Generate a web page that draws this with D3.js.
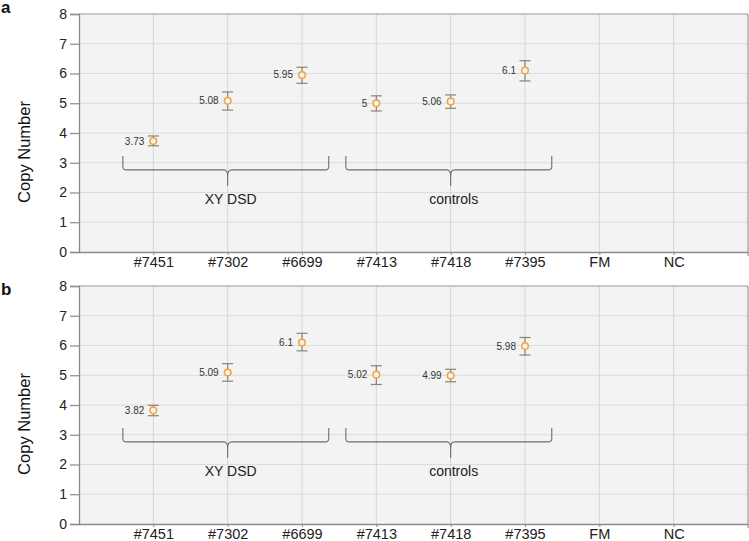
<!DOCTYPE html>
<html>
<head>
<meta charset="utf-8">
<script src="https://cdn.jsdelivr.net/npm/d3@7"></script>
<style>
  html, body { margin: 0; padding: 0; background: #fff; }
  svg { display: block; font-family: "Liberation Sans", Arial, Helvetica, sans-serif; }
</style>
</head>
<body>
<svg id="chart" width="749" height="541"></svg>
<script>
// ---- data ----
const categories = ["#7451", "#7302", "#6699", "#7413", "#7418", "#7395", "FM", "NC"];
const yTicks = [0, 1, 2, 3, 4, 5, 6, 7, 8];

const aValues = [3.73, 5.08, 5.95, 5.00, 5.06, 6.10];
const aLow    = [3.57, 4.77, 5.67, 4.74, 4.83, 5.75];
const aHigh   = [3.90, 5.38, 6.21, 5.25, 5.28, 6.43];
const aLabels = ["3.73", "5.08", "5.95", "5", "5.06", "6.1"];

const bValues = [3.82, 5.09, 6.10, 5.02, 4.99, 5.98];
const bLow    = [3.64, 4.80, 5.82, 4.69, 4.78, 5.68];
const bHigh   = [3.99, 5.39, 6.41, 5.32, 5.20, 6.27];
const bLabels = ["3.82", "5.09", "6.1", "5.02", "4.99", "5.98"];

const groupNames = ["XY DSD", "controls"];
const groupFirst = [0, 3];
const groupLast  = [2, 5];

const panels = [
  { letter: "a", top: 14, letterY: 13, values: aValues, low: aLow, high: aHigh, labels: aLabels },
  { letter: "b", top: 286, letterY: 295, values: bValues, low: bLow, high: bHigh, labels: bLabels }
];

// ---- layout ----
const left = 79, right = 748, plotH = 238;
const svg = d3.select("#chart");

const x = d3.scaleLinear().domain([0, categories.length + 1]).range([left, right]);
const xc = i => x(i + 1);

panels.forEach(p => {
  const y = d3.scaleLinear().domain([0, 8]).range([p.top + plotH, p.top]);
  const g = svg.append("g");

  // background
  g.append("rect").attr("x", left).attr("y", p.top)
    .attr("width", right - left).attr("height", plotH).attr("fill", "#f3f3f3");

  // horizontal grid
  g.selectAll(".hg").data(yTicks.slice(1, -1)).join("line")
    .attr("x1", left).attr("x2", right)
    .attr("y1", d => y(d)).attr("y2", d => y(d))
    .attr("stroke", "#dcdcdc").attr("stroke-width", 1);
  // vertical grid
  g.selectAll(".vg").data(categories).join("line")
    .attr("x1", (d, i) => xc(i)).attr("x2", (d, i) => xc(i))
    .attr("y1", p.top).attr("y2", p.top + plotH)
    .attr("stroke", "#d6d6d6").attr("stroke-width", 1);

  // frame top / right
  g.append("line").attr("x1", left).attr("x2", right).attr("y1", p.top).attr("y2", p.top)
    .attr("stroke", "#9a9a9a").attr("stroke-width", 1.2);
  g.append("line").attr("x1", right).attr("x2", right).attr("y1", p.top).attr("y2", p.top + plotH + 4)
    .attr("stroke", "#9a9a9a").attr("stroke-width", 1.2);

  // y axis
  const yAxis = d3.axisLeft(y).tickValues(yTicks).tickSize(9).tickPadding(3).tickFormat(d3.format("d"));
  const ya = g.append("g").attr("transform", `translate(${left},0)`).call(yAxis);
  ya.select(".domain").attr("stroke", "#8a8a8a").attr("stroke-width", 1.3);
  ya.selectAll(".tick line").attr("stroke", "#8a8a8a").attr("stroke-width", 1.2);
  ya.selectAll(".tick text").attr("font-size", 14).attr("fill", "#222")
    .attr("font-family", "Liberation Sans, Arial, sans-serif");

  // x axis
  const xAxis = d3.axisBottom(x).tickValues(categories.map((d, i) => i + 1))
    .tickFormat((d) => categories[d - 1]).tickSize(3).tickPadding(2).tickSizeOuter(0);
  const xa = g.append("g").attr("transform", `translate(0,${p.top + plotH})`).call(xAxis);
  xa.select(".domain").attr("stroke", "#8a8a8a").attr("stroke-width", 1.3);
  xa.selectAll(".tick line").attr("stroke", "#8a8a8a");
  xa.selectAll(".tick text").attr("font-size", 14.5).attr("fill", "#222")
    .attr("font-family", "Liberation Sans, Arial, sans-serif");

  // y label
  g.append("text")
    .attr("transform", `translate(30,${p.top + 138}) rotate(-90)`)
    .attr("text-anchor", "middle").attr("font-size", 16.5).attr("fill", "#111")
    .text("Copy Number");

  // panel letter
  g.append("text").attr("x", 1).attr("y", p.letterY)
    .attr("font-size", 17).attr("font-weight", "bold").attr("fill", "#111")
    .text(p.letter);

  // braces
  groupNames.forEach((name, k) => {
    const x0 = x(groupFirst[k] + 1 - 0.41);
    const x1 = x(groupLast[k] + 1 + 0.36);
    const xm = x((groupFirst[k] + groupLast[k]) / 2 + 1);
    const yTop = y(3.23), yLine = y(2.76), yTip = y(2.22);
    const r = 3.5;
    const path = d3.path();
    path.moveTo(x0, yTop);
    path.lineTo(x0, yLine - r);
    path.quadraticCurveTo(x0, yLine, x0 + r, yLine);
    path.lineTo(xm - 4, yLine);
    path.quadraticCurveTo(xm, yLine, xm, yLine + 6);
    path.lineTo(xm, yTip);
    path.moveTo(xm, yLine + 6);
    path.quadraticCurveTo(xm, yLine, xm + 4, yLine);
    path.lineTo(x1 - r, yLine);
    path.quadraticCurveTo(x1, yLine, x1, yLine - r);
    path.lineTo(x1, yTop);
    g.append("path").attr("d", path.toString())
      .attr("fill", "none").attr("stroke", "#6e6e6e").attr("stroke-width", 1.1);
    g.append("text").attr("x", xm + 3).attr("y", y(1.61))
      .attr("text-anchor", "middle").attr("font-size", 14).attr("fill", "#222")
      .text(name);
  });

  // error bars
  const idx = p.values.map((d, i) => i);
  g.selectAll(".eb").data(idx).join("line")
    .attr("x1", i => xc(i)).attr("x2", i => xc(i))
    .attr("y1", i => y(p.low[i])).attr("y2", i => y(p.high[i]))
    .attr("stroke", "#8c8276").attr("stroke-width", 1.2);
  ["low", "high"].forEach(key => {
    g.selectAll(".cap" + key).data(idx).join("line")
      .attr("x1", i => xc(i) - 5.5).attr("x2", i => xc(i) + 5.5)
      .attr("y1", i => y(p[key][i])).attr("y2", i => y(p[key][i]))
      .attr("stroke", "#8c8276").attr("stroke-width", 1.2);
  });

  // points
  g.selectAll(".pt").data(idx).join("circle")
    .attr("cx", i => xc(i)).attr("cy", i => y(p.values[i])).attr("r", 3.3)
    .attr("fill", "#f3f3f3").attr("stroke", "#f4a23c").attr("stroke-width", 1.5);

  // value labels
  g.selectAll(".vl").data(idx).join("text")
    .attr("x", i => xc(i) - 9).attr("y", i => y(p.values[i]) + 3.5)
    .attr("text-anchor", "end").attr("font-size", 10).attr("fill", "#333")
    .text(i => p.labels[i]);
});
</script>
</body>
</html>
